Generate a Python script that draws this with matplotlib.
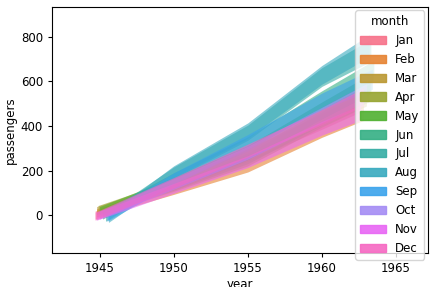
import matplotlib.pyplot as plt
import matplotlib.patches as mpatches
import seaborn as sns
import numpy as np

months = ["Jan", "Feb", "Mar", "Apr", "May", "Jun",
          "Jul", "Aug", "Sep", "Oct", "Nov", "Dec"]

# band start / end year for each month
start_year = [1944.7, 1944.8, 1944.8, 1944.9, 1945.0, 1945.2,
              1945.4, 1945.6, 1945.5, 1945.0, 1944.8, 1944.7]
end_year = [1962.5, 1962.8, 1963.0, 1963.2, 1963.3, 1963.5,
            1963.3, 1963.2, 1963.4, 1963.0, 1962.6, 1962.8]

# passengers at start, 1950, 1955, 1960, end
y_start = [0, 10, 20, 25, 20, 0, -10, -15, -10, 0, -5, -5]
y_1950 = [140, 115, 130, 135, 145, 165, 190, 195, 165, 140, 120, 145]
y_1955 = [270, 220, 250, 260, 280, 320, 370, 380, 330, 280, 240, 290]
y_1960 = [420, 380, 430, 440, 470, 520, 620, 630, 510, 450, 390, 440]
y_end = [500, 460, 530, 550, 590, 650, 740, 760, 610, 550, 460, 530]

# half width of each band at start and at end
hw_start = [18, 18, 18, 18, 18, 18, 18, 18, 18, 18, 18, 18]
hw_end = [40, 35, 40, 40, 45, 45, 50, 50, 45, 40, 35, 40]

colors = sns.color_palette("husl", 12)

plt.rcParams["font.size"] = 8.5
plt.rcParams["xtick.major.size"] = 3
plt.rcParams["ytick.major.size"] = 3

fig, ax = plt.subplots(figsize=(4.38, 2.87), dpi=100)

handles = []
for i, m in enumerate(months):
    xs = [start_year[i], 1950, 1955, 1960, end_year[i]]
    ys = np.array([y_start[i], y_1950[i], y_1955[i], y_1960[i], y_end[i]], dtype=float)
    hw = np.linspace(hw_start[i], hw_end[i], len(xs))
    ax.fill_between(xs, ys - hw, ys + hw, color=colors[i], alpha=0.6, linewidth=0)
    handles.append(mpatches.Patch(color=colors[i], alpha=0.9, label=m))

ax.set_xlim(1941.8, 1967.15)
ax.set_ylim(-171, 935)
ax.set_xticks([1945, 1950, 1955, 1960, 1965])
ax.set_yticks([0, 200, 400, 600, 800])
ax.set_xlabel("year", labelpad=2)
ax.set_ylabel("passengers", labelpad=3)
ax.legend(handles=handles, title="month", loc="upper right",
          handlelength=2.2, labelspacing=0.5, borderaxespad=0.3)

plt.subplots_adjust(left=0.119, right=0.977, top=0.976, bottom=0.118)
plt.savefig("out.png", dpi=100)
